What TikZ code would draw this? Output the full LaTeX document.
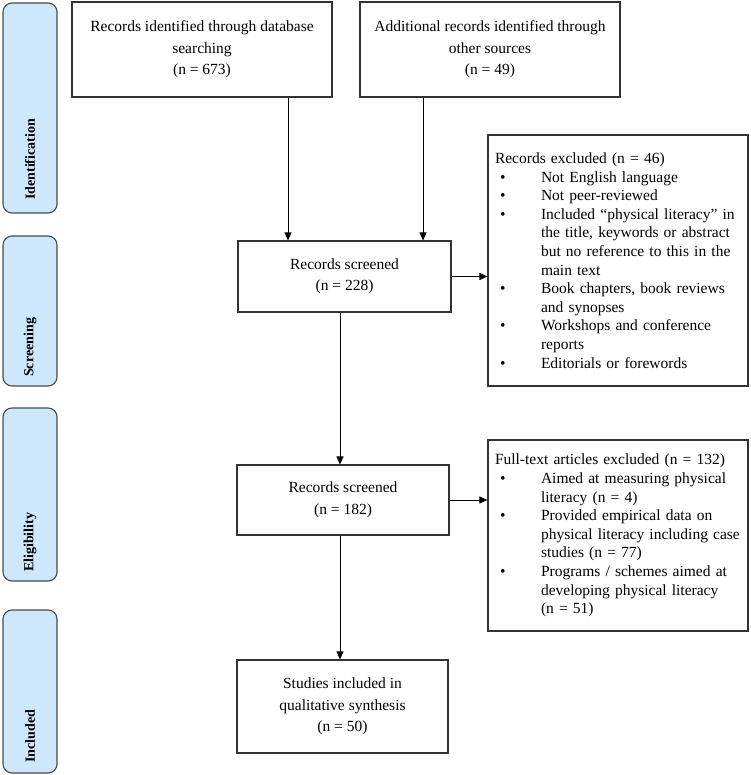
\documentclass[tikz,border=0pt]{standalone}
\usepackage{fontspec}
\setmainfont{Liberation Serif}
\usetikzlibrary{arrows.meta}
\definecolor{barfill}{HTML}{CDE8FC}
\definecolor{barline}{HTML}{4A4A4A}
\definecolor{boxline}{HTML}{333333}
\newcommand{\lstitem}{\hspace*{5pt}\makebox[41pt][l]{\textbullet}}
\newcommand{\lstcont}{\hspace*{46pt}}
\begin{document}
\begin{tikzpicture}[x=1pt,y=-1pt,
  box/.style={draw=boxline, line width=1.1pt, fill=white, align=center, inner sep=0pt,
    font=\fontsize{15.5}{21.5}\selectfont},
  listbox/.style={draw=boxline, line width=1.1pt, fill=white, align=left, inner xsep=7pt, inner ysep=0pt,
    text width=246pt, minimum width=260pt, font=\fontsize{15.5}{18.6}\selectfont},
  phase/.style={draw=barline, line width=1.1pt, fill=barfill, rounded corners=9pt,
    minimum width=54pt, inner sep=0pt},
  phaselabel/.style={rotate=90, anchor=west, inner sep=0pt,
    font=\fontsize{14}{16}\selectfont\bfseries},
  arr/.style={draw=black, line width=0.9pt, -{Triangle[length=8pt,width=7pt]}}
]
\useasboundingbox (0,0) rectangle (750,775);

% phase bars
\node[phase, minimum height=210pt] (pid) at (30,108) {};
\node[phase, minimum height=150pt] (psc) at (30,311) {};
\node[phase, minimum height=173pt] (pel) at (30,494.5) {};
\node[phase, minimum height=163pt] (pin) at (30,691.5) {};
\node[phaselabel] (lid) at (30,200) {Identification};
\node[phaselabel] (lsc) at (30,377) {Screening};
\node[phaselabel] (lel) at (30,572) {Eligibility};
\node[phaselabel] (lin) at (30,763) {Included};

% boxes
\node[box, minimum width=260pt, minimum height=95pt] (b1) at (202,49.5)
  {Records identified through database\\searching\\(n = 673)};
\node[box, minimum width=260pt, minimum height=95pt] (b2) at (490,49.5)
  {Additional records identified through\\other sources\\(n = 49)};
\node[box, minimum width=213pt, minimum height=71pt] (s1) at (344.5,276.5)
  {Records screened\\(n = 228)};
\node[box, minimum width=212pt, minimum height=70pt] (s2) at (343,500)
  {Records screened\\(n = 182)};
\node[box, minimum width=211pt, minimum height=93pt] (st) at (342.5,706.5)
  {Studies included in\\qualitative synthesis\\(n = 50)};

\node[listbox, minimum height=251pt] (ex) at (618,260.5)
  {Records excluded (n = 46)\\
   \lstitem Not English language\\
   \lstitem Not peer-reviewed\\
   \lstitem Included “physical literacy” in\\
   \lstcont the title, keywords or abstract\\
   \lstcont but no reference to this in the\\
   \lstcont main text\\
   \lstitem Book chapters, book reviews\\
   \lstcont and synopses\\
   \lstitem Workshops and conference\\
   \lstcont reports\\
   \lstitem Editorials or forewords};
\node[listbox, minimum height=191pt] (ft) at (618,535.5)
  {Full-text articles excluded (n = 132)\\
   \lstitem Aimed at measuring physical\\
   \lstcont literacy (n = 4)\\
   \lstitem Provided empirical data on\\
   \lstcont physical literacy including case\\
   \lstcont studies (n = 77)\\
   \lstitem Programs / schemes aimed at\\
   \lstcont developing physical literacy\\
   \lstcont (n = 51)};

% arrows
\coordinate (cA) at (288,0);
\coordinate (cB) at (423,0);
\coordinate (cC) at (340,0);
\draw[arr] (b1.south -| cA) -- (s1.north -| cA);
\draw[arr] (b2.south -| cB) -- (s1.north -| cB);
\draw[arr] (s1.east) -- (s1.east -| ex.west);
\draw[arr] (s1.south -| cC) -- (s2.north -| cC);
\draw[arr] (s2.east) -- (s2.east -| ft.west);
\draw[arr] (s2.south -| cC) -- (st.north -| cC);
\end{tikzpicture}
\end{document}
